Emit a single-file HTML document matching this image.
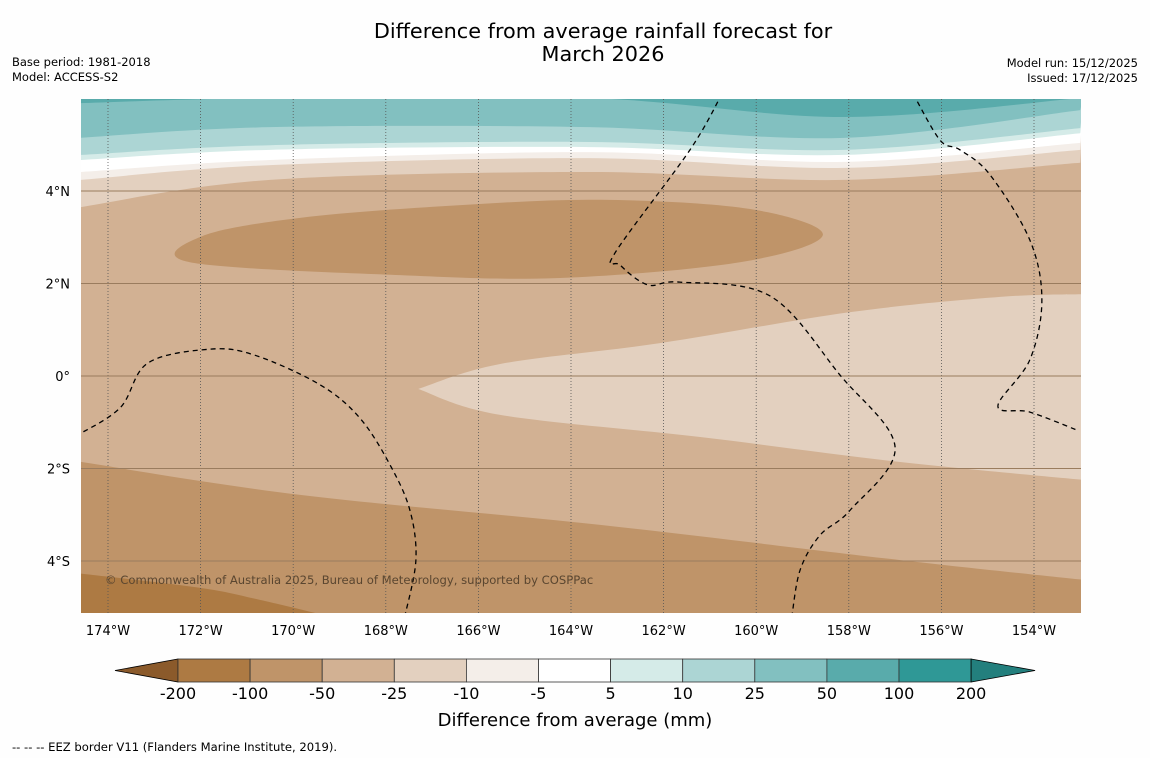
<!DOCTYPE html>
<html><head><meta charset="utf-8"><style>
body{margin:0;background:#fefefe;}
svg{display:block;font-family:"DejaVu Sans","Liberation Sans",sans-serif;}
</style></head><body>
<svg id="c" width="1150" height="758" viewBox="0 0 1150 758" xmlns="http://www.w3.org/2000/svg">
<rect width="1150" height="758" fill="#fefefe"/>
<text x="603" y="38" font-size="20.8" text-anchor="middle">Difference from average rainfall forecast for</text>
<text x="603" y="61" font-size="20.8" text-anchor="middle">March 2026</text>
<text x="12" y="66" font-size="11.5">Base period: 1981-2018</text>
<text x="12" y="81" font-size="11.5">Model: ACCESS-S2</text>
<text x="1138" y="67" font-size="11.5" text-anchor="end">Model run: 15/12/2025</text>
<text x="1138" y="82" font-size="11.5" text-anchor="end">Issued: 17/12/2025</text>
<defs><clipPath id="mc"><rect x="81" y="99" width="1000" height="514"/></clipPath></defs>
<g id="map" clip-path="url(#mc)"></g>
<g id="axes"></g>
<g id="cbar"></g>
<text x="575" y="726" font-size="18" text-anchor="middle">Difference from average (mm)</text>
<text x="12" y="751" font-size="11.6">--  --  -- EEZ border V11 (Flanders Marine Institute, 2019).</text>
</svg>
<script>
const lonTicks=[-174,-172,-170,-168,-166,-164,-162,-160,-158,-156,-154];
const latTicks=[4,2,0,-2,-4];
const levels=["-200","-100","-50","-25","-10","-5","5","10","25","50","100","200"];
const levelColors=["#ad7a43","#bf9469","#d2b193","#e3d0bf","#f4eee9","#ffffff","#d5ebe8","#acd5d4","#82c0c0","#59abab","#2f9896"];
const bandLons=[-174.6,-170.5,-163.6,-158.1,-153];
const bandB1=[5.90,6.01,6.01,5.60,6.01];
const bandB2=[5.15,5.38,5.38,5.15,5.75];
const bandB3=[4.78,4.99,5.06,4.89,5.36];
const bandB4=[4.67,4.89,4.95,4.78,5.25];
const bandB5=[4.41,4.67,4.84,4.63,5.04];
const bandB6=[4.24,4.56,4.71,4.50,4.89];
const bandB7=[3.65,4.24,4.41,4.24,4.61];
const blobN=[[-171.95,3.03],[-169.85,3.42],[-166.61,3.68],[-163.37,3.81],[-160.13,3.61],[-158.56,3.05],[-160.35,2.46],[-164.24,2.12],[-167.69,2.18],[-172.23,2.46]];
const lightE=[[-167.30,-0.28],[-165.53,0.26],[-162.08,0.71],[-157.97,1.38],[-154.73,1.71],[-152.9,1.77],[-152.9,-2.25],[-156.89,-1.86],[-161.21,-1.32],[-165.53,-0.84]];
const southB=[[-174.7,-1.84],[-169.85,-2.57],[-163.37,-3.22],[-156.89,-3.98],[-152.9,-4.41]];
const darkS=[[-174.7,-4.26],[-172.01,-4.58],[-170.72,-4.84],[-169.21,-5.2],[-174.7,-5.2]];
const eez1=[[-174.7,-1.3],[-173.74,-0.69],[-173.14,0.28],[-171.80,0.58],[-170.83,0.45],[-169.42,-0.19],[-168.56,-0.91],[-167.91,-1.92],[-167.48,-2.90],[-167.35,-3.98],[-167.59,-5.2]];
const eez2=[[-160.74,6.1],[-161.43,4.89],[-163.05,2.66],[-162.94,2.40],[-162.34,1.97],[-161.65,2.03],[-159.70,1.73],[-158.19,0.02],[-157.00,-1.54],[-157.97,-2.90],[-158.62,-3.44],[-159.05,-4.19],[-159.23,-5.2]];
const eez3=[[-156.61,6.1],[-156.03,5.10],[-155.60,4.89],[-154.95,4.35],[-154.09,2.94],[-153.83,1.64],[-154.09,0.35],[-154.78,-0.65],[-154.09,-0.78],[-153.07,-1.17]];

const X=lon=>108+(lon+174)*46.3;
const Y=lat=>376-lat*46.25;
const NS="http://www.w3.org/2000/svg";
function mk(tag,attrs,parent){const e=document.createElementNS(NS,tag);for(const k in attrs)e.setAttribute(k,attrs[k]);parent.appendChild(e);return e;}
function smooth(pts,closed){
  const p=pts.map(q=>[X(q[0]),Y(q[1])]);const n=p.length;let d="M"+p[0][0]+","+p[0][1];
  const g=i=>closed?p[(i+n)%n]:p[Math.max(0,Math.min(n-1,i))];
  const m=closed?n:n-1;
  for(let i=0;i<m;i++){const p0=g(i-1),p1=g(i),p2=g(i+1),p3=g(i+2);
    d+=" C"+(p1[0]+(p2[0]-p0[0])/6)+","+(p1[1]+(p2[1]-p0[1])/6)+" "+(p2[0]-(p3[0]-p1[0])/6)+","+(p2[1]-(p3[1]-p1[1])/6)+" "+p2[0]+","+p2[1];}
  return closed?d+"Z":d;}
const map=document.getElementById('map');
let r=mk('rect',{x:81,y:99,width:1000,height:514,fill:levelColors[2]},map);


const bands=[[bandB7,levelColors[3]],[bandB6,levelColors[4]],[bandB5,levelColors[5]],[bandB4,levelColors[6]],[bandB3,levelColors[7]],[bandB2,levelColors[8]],[bandB1,levelColors[9]]];
bands.forEach((b,i)=>{
  const pts=bandLons.map((l,j)=>[l,b[0][j]]);
  const d=smooth(pts,false)+" L"+X(-152.9)+","+Y(6.2)+" L"+X(-174.7)+","+Y(6.2)+"Z";
  const e=mk('path',{d:d,fill:b[1]},map);
  
  
});
let e=mk('path',{d:smooth(blobN,true),fill:levelColors[1]},map);


e=mk('path',{d:smooth(lightE.slice(0,6),false)+" L"+X(-152.9)+","+Y(-2.25)+" "+smooth(lightE.slice(6).concat([lightE[0]]),false).replace("M"," L")+"Z",fill:levelColors[3]},map);


e=mk('path',{d:smooth(southB,false)+" L"+X(-152.9)+","+Y(-5.3)+" L"+X(-174.7)+","+Y(-5.3)+"Z",fill:levelColors[1]},map);


e=mk('path',{d:smooth(darkS.slice(0,4),false)+" L"+X(-174.7)+","+Y(-5.3)+"Z",fill:levelColors[0]},map);


lonTicks.forEach(l=>{const g=mk('line',{x1:X(l),x2:X(l),y1:99,y2:613,stroke:"#555",'stroke-width':0.8,'stroke-dasharray':"1,2"},map);
  
  });
latTicks.forEach(l=>{const g=mk('line',{x1:81,x2:1081,y1:Y(l),y2:Y(l),stroke:"#9a7c5e",'stroke-width':1},map);
  
  });
[eez1,eez2,eez3].forEach((p,i)=>{const g=mk('path',{d:smooth(p,false),fill:"none",stroke:"#000",'stroke-width':1.3,'stroke-dasharray':"5,4"},map);
  
  });
const t=mk('text',{x:105,y:584,'font-size':11.6,fill:"#5a4630"},map);t.textContent="© Commonwealth of Australia 2025, Bureau of Meteorology, supported by COSPPac";


const ax=document.getElementById('axes');
lonTicks.forEach(l=>{const g=mk('text',{x:X(l),y:635,'font-size':13,'text-anchor':'middle'},ax);g.textContent=Math.abs(l)+"°W";
  
  });
latTicks.forEach(l=>{const g=mk('text',{x:70,y:Y(l)+5,'font-size':13,'text-anchor':'end'},ax);g.textContent=l===0?"0°":Math.abs(l)+"°"+(l>0?"N":"S");
  
  });
const cb=document.getElementById('cbar');const cx0=178,cw=72.1,cy=659,ch=23;
let tri=mk('polygon',{points:`115,${cy+ch/2} ${cx0},${cy} ${cx0},${cy+ch}`,fill:"#8b5a2b",stroke:"#000",'stroke-width':0.8},cb);


levelColors.forEach((c,i)=>{const g=mk('rect',{x:cx0+i*cw,y:cy,width:cw,height:ch,fill:c,stroke:"#333",'stroke-width':0.8},cb);
  
  });
const xe=cx0+levelColors.length*cw;
tri=mk('polygon',{points:`${xe},${cy} ${xe+64},${cy+ch/2} ${xe},${cy+ch}`,fill:"#237f7d",stroke:"#000",'stroke-width':0.8},cb);


levels.forEach((v,i)=>{const g=mk('text',{x:cx0+i*cw,y:699,'font-size':16,'text-anchor':'middle'},cb);g.textContent=v;
  
  });
</script>
</body></html>
